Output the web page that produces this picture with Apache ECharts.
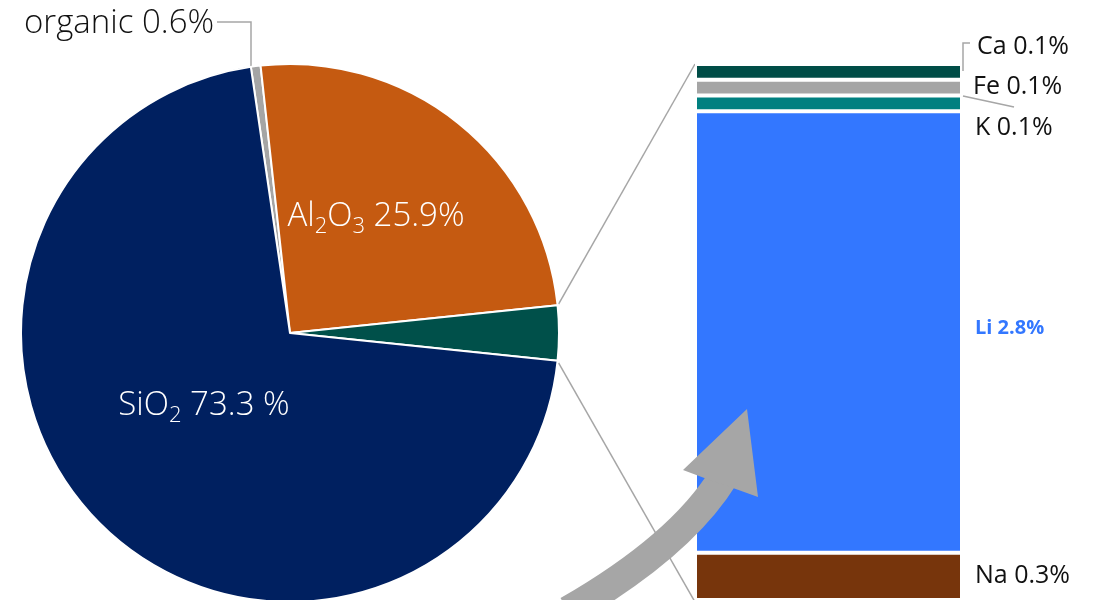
<!DOCTYPE html>
<html>
<head>
<meta charset="utf-8">
<script src="https://cdn.jsdelivr.net/npm/echarts@6/dist/echarts.min.js"></script>
<style>
  html, body { margin: 0; padding: 0; background: #fff; }
  #chart { width: 1102px; height: 600px; }
</style>
</head>
<body>
<div id="chart"></div>
<script>
// Bulk composition (pie) and breakdown of the alkali / trace slice (stacked bar)
const pieNames = ['organic', 'Al2O3', 'alkali', 'SiO2'];
const pieColors = ['#A5A5A5', '#C55A11', '#00504A', '#002060'];
const organicValue = 0.6;
const al2o3Value = 25.9;
const sio2Value = 73.3;

// Elements inside the small slice, bottom to top
const elementNames = ['Na', 'Li', 'K', 'Fe', 'Ca'];
const elementValues = [0.3, 2.8, 0.1, 0.1, 0.1];
const elementColors = ['#77350C', '#3377FF', '#008080', '#A5A5A5', '#004D47'];

const alkaliValue = +elementValues.reduce((a, b) => a + b, 0).toFixed(1);
const pieValues = [organicValue, al2o3Value, alkaliValue, sio2Value];
const pieTotal = pieValues.reduce((a, b) => a + b, 0);

// Layout
const PIE_CX = 290, PIE_CY = 333, PIE_R = 269;
const BAR_LEFT = 695, BAR_RIGHT = 962, BAR_TOP = 64, BAR_BOTTOM = 602;
const FONT = "'Open Sans', 'Noto Sans', sans-serif";
const GREY = '#A6A6A6';

// rotate so the small slice faces the bar (centred at 3 o'clock)
const startAngle = (organicValue + al2o3Value + alkaliValue / 2) / pieTotal * 360;

const chart = echarts.init(document.getElementById('chart'), null, { renderer: 'canvas' });

const pieRich = {
  t: { fontSize: 33, fontWeight: 300, fontFamily: FONT, color: '#fff', lineHeight: 42, verticalAlign: 'middle' },
  s: { fontSize: 22, fontWeight: 300, fontFamily: FONT, color: '#fff', lineHeight: 42, verticalAlign: 'bottom', padding: [16, 0, 0, 0] }
};

function pieLabel(p) {
  switch (p.name) {
    case 'organic': return '{o|organic ' + p.value + '%}';
    case 'Al2O3': return '{t|Al}{s|2}{t|O}{s|3}{t| ' + p.value + '%}';
    case 'SiO2': return '{t|SiO}{s|2}{t| ' + p.value + ' %}';
    default: return '';
  }
}

// label anchors for the pie
const pieLabelPos = {
  organic: { x: 24, y: 24, align: 'left' },
  Al2O3: { x: 376, y: 217, align: 'center' },
  SiO2: { x: 204, y: 406, align: 'center' }
};

const barSeries = elementNames.map((name, i) => ({
  name: name,
  type: 'bar',
  stack: 'elements',
  data: [elementValues[i]],
  barWidth: '100%',
  barCategoryGap: 0,
  itemStyle: { color: elementColors[i], borderColor: '#fff', borderWidth: 2 },
  label: {
    show: true,
    position: 'right',
    distance: 13,
    formatter: (p) => p.seriesName + ' ' + p.value + '%',
    fontFamily: FONT,
    fontSize: name === 'Li' ? 20 : 25,
    fontWeight: name === 'Li' ? 'bold' : 'normal',
    color: name === 'Li' ? '#3377FF' : '#111',
    offset: ({ Na: [0, 0], Li: [0, -4], K: [0, 24], Fe: [-2, -1], Ca: [2, -25] })[name]
  },
  emphasis: { disabled: true }
}));

// connector points on the pie rim at the edges of the small slice
const a0 = (startAngle - (organicValue + al2o3Value) / pieTotal * 360) * Math.PI / 180;
const a1 = a0 - alkaliValue / pieTotal * 360 * Math.PI / 180;
const rimTop = [PIE_CX + PIE_R * Math.cos(a0), PIE_CY - PIE_R * Math.sin(a0)];
const rimBot = [PIE_CX + PIE_R * Math.cos(a1), PIE_CY - PIE_R * Math.sin(a1)];

const option = {
  animation: false,
  backgroundColor: '#fff',
  grid: { left: BAR_LEFT, right: 1102 - BAR_RIGHT, top: BAR_TOP, bottom: 600 - BAR_BOTTOM, containLabel: false },
  xAxis: { type: 'category', data: ['elements'], show: false },
  yAxis: { type: 'value', min: 0, max: alkaliValue, show: false },
  series: [
    {
      type: 'pie',
      center: [PIE_CX, PIE_CY],
      radius: PIE_R,
      startAngle: startAngle,
      clockwise: true,
      avoidLabelOverlap: false,
      itemStyle: { borderColor: '#fff', borderWidth: 2 },
      label: {
        show: true,
        position: 'inside',
        formatter: pieLabel,
        rich: Object.assign({
          o: { fontSize: 33, fontWeight: 300, fontFamily: FONT, color: '#111' }
        }, pieRich)
      },
      labelLine: { show: false },
      labelLayout: (params) => {
        const name = pieNames[params.dataIndex];
        const pos = pieLabelPos[name];
        if (!pos) return {};
        const out = { x: pos.x, y: pos.y, align: pos.align, verticalAlign: 'middle' };
        if (name === 'organic') {
          out.labelLinePoints = [[217, 22], [251, 22], [251, 67]];
        }
        return out;
      },
      emphasis: { disabled: true },
      data: pieNames.map((n, i) => ({
        name: n,
        value: pieValues[i],
        itemStyle: { color: pieColors[i] },
        label: { show: n !== 'alkali', position: n === 'organic' ? 'outside' : 'inside' },
        labelLine: { show: n === 'organic', lineStyle: { color: GREY, width: 1.5 } }
      }))
    }
  ].concat(barSeries),
  graphic: [
    // zoom connectors from the small slice to the bar
    { type: 'line', silent: true, z: 1, shape: { x1: rimTop[0] + 1, y1: rimTop[1] - 1, x2: BAR_LEFT, y2: BAR_TOP }, style: { stroke: GREY, lineWidth: 1.5 } },
    { type: 'line', silent: true, z: 1, shape: { x1: rimBot[0] + 1, y1: rimBot[1] + 2, x2: BAR_LEFT, y2: BAR_BOTTOM }, style: { stroke: GREY, lineWidth: 1.5 } },
    // leader lines for the top labels
    { type: 'polyline', silent: true, z: 10, shape: { points: [[963, 71], [963, 43], [970, 43]] }, style: { stroke: GREY, lineWidth: 1.5, fill: null } },
    { type: 'line', silent: true, z: 10, shape: { x1: 963, y1: 96, x2: 1014, y2: 107 }, style: { stroke: GREY, lineWidth: 1.5 } },
    // curved arrow
    { type: 'bezierCurve', silent: true, z: 20, shape: { x1: 568, y1: 611, cpx1: 681, cpy1: 546, x2: 724, y2: 476 }, style: { stroke: GREY, lineWidth: 30, fill: null } },
    { type: 'polygon', silent: true, z: 20, shape: { points: [[683, 470], [747, 409], [758, 497], [733, 488], [707, 479]] }, style: { fill: GREY } }
  ]
};

chart.setOption(option);
</script>
</body>
</html>
